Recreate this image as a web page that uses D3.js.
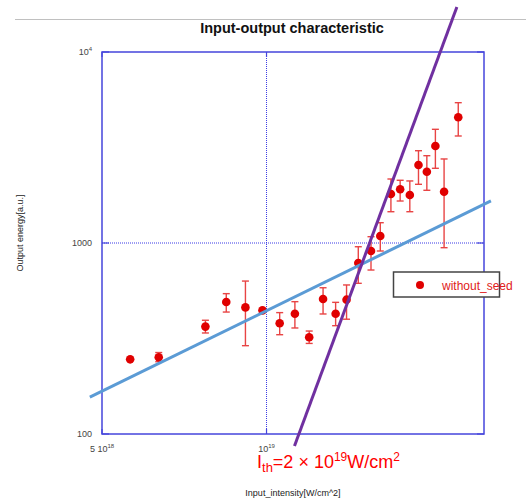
<!DOCTYPE html>
<html lang="en">
<head>
  <meta charset="UTF-8">
  <title>Input-output characteristic</title>
  <style>
    body { margin: 0; background: #ffffff; font-family: "Liberation Sans", Arial, sans-serif; }
    .frame { fill: none; stroke: #4646dc; stroke-width: 1.5px; }
    .grid { stroke: #3a3ae6; stroke-width: 1px; stroke-dasharray: 1,1; }
    .tick { fill: #444; font-size: 9px; }
    .err { stroke: #e84444; stroke-width: 1.4px; }
    .dot { fill: #e00000; }
  </style>
</head>
<body>
  <script src="https://cdnjs.cloudflare.com/ajax/libs/d3/7.8.5/d3.min.js"></script>
  <script>
    // input intensity [W/cm^2]
    var intensity = [0.563e19, 0.635e19, 0.773e19, 0.844e19, 0.915e19, 0.983e19, 1.057e19, 1.127e19,
                     1.197e19, 1.269e19, 1.338e19, 1.401e19, 1.472e19, 1.553e19, 1.615e19, 1.689e19,
                     1.756e19, 1.829e19, 1.897e19, 1.965e19, 2.037e19, 2.113e19, 2.243e19];
    // output energy [a.u.]
    var energy = [246, 252, 365, 491, 460, 444, 380, 426, 321, 509, 426, 505,
                  786, 908, 1088, 1805, 1910, 1784, 2561, 2362, 3221, 1856, 4550];
    var errHigh = [246, 267, 394, 543, 632, 444, 432, 493, 346, 583, 489, 603,
                   956, 1079, 1277, 2163, 2130, 2113, 3042, 2865, 3938, 2754, 5428];
    var errLow = [246, 239, 338, 435, 290, 444, 331, 359, 298, 425, 369, 399,
                  615, 722, 908, 1458, 1659, 1458, 2029, 1888, 2461, 945, 3633];

    // fitted lines (endpoints)
    var lowFit = [[4.75e18, 156], [2.574e19, 1660]];
    var highFit = [[1.125e19, 86.5], [2.23e19, 17200]];

    var xTicks = [5e18, 1e19];
    var yTicks = [100, 1000, 10000];

    var W = 528, H = 502;
    var pL = 102, pR = 484, pT = 52, pB = 434;

    var x = d3.scaleLog().domain([5e18, 2.5e19]).range([pL, pR]);
    var y = d3.scaleLog().domain([100, 10000]).range([pB, pT]);

    var svg = d3.select("body").append("svg")
        .attr("width", W)
        .attr("height", H);

    // slide rule line
    svg.append("line")
        .attr("x1", 15).attr("x2", 526).attr("y1", 19.5).attr("y2", 19.5)
        .attr("stroke", "#c0c0c0").attr("stroke-width", 1.2);

    svg.append("text")
        .attr("x", 292).attr("y", 33)
        .attr("text-anchor", "middle")
        .attr("font-size", "14.5px").attr("font-weight", "bold")
        .attr("fill", "#111")
        .text("Input-output characteristic");

    // grid at 1e19 and 1000
    svg.append("line").attr("class", "grid")
        .attr("x1", x(1e19)).attr("x2", x(1e19)).attr("y1", pT).attr("y2", pB);
    svg.append("line").attr("class", "grid")
        .attr("x1", pL).attr("x2", pR).attr("y1", y(1000)).attr("y2", y(1000));

    svg.append("rect").attr("class", "frame")
        .attr("x", pL).attr("y", pT)
        .attr("width", pR - pL).attr("height", pB - pT);

    // inner ticks
    xTicks.forEach(function (t) {
        svg.append("line").attr("stroke", "#4646dc").attr("stroke-width", 1.2)
            .attr("x1", x(t)).attr("x2", x(t)).attr("y1", pB).attr("y2", pB - 5);
        svg.append("line").attr("stroke", "#4646dc").attr("stroke-width", 1.2)
            .attr("x1", x(t)).attr("x2", x(t)).attr("y1", pT).attr("y2", pT + 5);
    });
    yTicks.forEach(function (t) {
        svg.append("line").attr("stroke", "#4646dc").attr("stroke-width", 1.2)
            .attr("x1", pL).attr("x2", pL + 7).attr("y1", y(t)).attr("y2", y(t));
        svg.append("line").attr("stroke", "#4646dc").attr("stroke-width", 1.2)
            .attr("x1", pR).attr("x2", pR - 7).attr("y1", y(t)).attr("y2", y(t));
    });

    // y tick labels
    function yLabel(t) {
        var txt = svg.append("text").attr("class", "tick")
            .attr("x", 92).attr("y", y(t) + 3).attr("text-anchor", "end");
        if (t === 10000) {
            txt.append("tspan").text("10");
            txt.append("tspan").attr("font-size", "6px").attr("dy", -4).text("4");
        } else {
            txt.text(t);
        }
    }
    yTicks.forEach(yLabel);

    // x tick labels
    var xl1 = svg.append("text").attr("class", "tick")
        .attr("x", x(5e18)).attr("y", 452).attr("text-anchor", "middle");
    xl1.append("tspan").text("5 10");
    xl1.append("tspan").attr("font-size", "6px").attr("dy", -4).text("18");
    var xl2 = svg.append("text").attr("class", "tick")
        .attr("x", x(1e19)).attr("y", 452).attr("text-anchor", "middle");
    xl2.append("tspan").text("10");
    xl2.append("tspan").attr("font-size", "6px").attr("dy", -4).text("19");

    // axis titles
    svg.append("text")
        .attr("transform", "translate(23," + 233 + ") rotate(-90)")
        .attr("text-anchor", "middle")
        .attr("font-size", "9px").attr("fill", "#222")
        .text("Output energy[a.u.]");
    svg.append("text")
        .attr("x", 293).attr("y", 496)
        .attr("text-anchor", "middle")
        .attr("font-size", "9px").attr("fill", "#222")
        .text("Input_intensity[W/cm^2]");

    // error bars
    var pts = intensity.map(function (v, i) {
        return {x: v, y: energy[i], hi: errHigh[i], lo: errLow[i]};
    });
    var eb = svg.append("g");
    pts.forEach(function (d) {
        if (d.hi === d.lo) return;
        var cx = x(d.x);
        eb.append("line").attr("class", "err")
            .attr("x1", cx).attr("x2", cx).attr("y1", y(d.hi)).attr("y2", y(d.lo));
        eb.append("line").attr("class", "err")
            .attr("x1", cx - 3.5).attr("x2", cx + 3.5).attr("y1", y(d.hi)).attr("y2", y(d.hi));
        eb.append("line").attr("class", "err")
            .attr("x1", cx - 3.5).attr("x2", cx + 3.5).attr("y1", y(d.lo)).attr("y2", y(d.lo));
    });

    svg.append("g").selectAll("circle")
        .data(pts)
        .join("circle")
        .attr("class", "dot")
        .attr("cx", function (d) { return x(d.x); })
        .attr("cy", function (d) { return y(d.y); })
        .attr("r", 4.3);

    // fit lines
    var line = d3.line()
        .x(function (d) { return x(d[0]); })
        .y(function (d) { return y(d[1]); });
    svg.append("path").datum(lowFit)
        .attr("d", line).attr("fill", "none")
        .attr("stroke", "#5b9bd5").attr("stroke-width", 3);
    svg.append("path").datum(highFit)
        .attr("d", line).attr("fill", "none")
        .attr("stroke", "#7030a0").attr("stroke-width", 3);

    // legend
    var lg = svg.append("g");
    lg.append("rect")
        .attr("x", 393.5).attr("y", 272).attr("width", 106).attr("height", 25)
        .attr("fill", "#fff").attr("stroke", "#444").attr("stroke-width", 1.5);
    lg.append("circle").attr("cx", 420).attr("cy", 285).attr("r", 4).attr("fill", "#e00000");
    lg.append("text").attr("x", 442).attr("y", 289.5)
        .attr("font-size", "12px").attr("fill", "#e02020")
        .text("without_seed");

    // threshold annotation
    var ann = svg.append("text")
        .attr("x", 257).attr("y", 468)
        .attr("font-size", "18px").attr("fill", "#ff0000");
    ann.append("tspan").text("I");
    ann.append("tspan").attr("font-size", "13px").attr("dy", 4).text("th");
    ann.append("tspan").attr("dy", -4).text("=2 \u00d7 10");
    ann.append("tspan").attr("font-size", "12px").attr("dy", -7).text("19");
    ann.append("tspan").attr("dy", 7).text("W/cm");
    ann.append("tspan").attr("font-size", "12px").attr("dy", -7).text("2");
  </script>
</body>
</html>
